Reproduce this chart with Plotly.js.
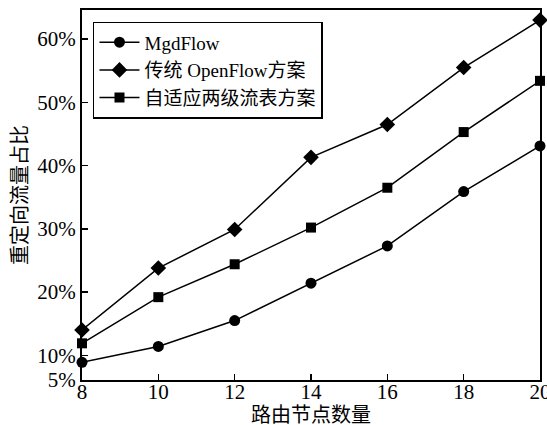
<!DOCTYPE html>
<html>
<head>
<meta charset="utf-8">
<script src="https://cdn.plot.ly/plotly-3.0.1.min.js"></script>
<style>html,body{margin:0;padding:0;background:#fff;}#chart{width:547px;height:425px;}</style>
</head>
<body>
<div id="chart"></div>
<script>
const nodes = [8, 10, 12, 14, 16, 18, 20];
const mgdFlow = [8.9, 11.4, 15.5, 21.4, 27.3, 35.9, 43.1];
const openFlow = [14.0, 23.8, 29.9, 41.3, 46.5, 55.5, 63.0];
const adaptive = [11.9, 19.2, 24.4, 30.2, 36.5, 45.3, 53.4];
const seriesNames = ['MgdFlow', '传统 OpenFlow方案', '自适应两级流表方案'];
const yTickVals = [6.1, 10, 20, 30, 40, 50, 60];
const yTickText = ['5%', '10%', '20%', '30%', '40%', '50%', '60%'];
const xTickVals = [8, 10, 12, 14, 16, 18, 20];
const xTitle = '路由节点数量';
const yTitle = '重定向流量占比';

const fontFam = '"Liberation Serif", "Times New Roman", "Noto Sans CJK SC", serif';
const symbols = ['circle', 'diamond', 'square'];
const sizes = [11, 12, 10];
const data = [mgdFlow, openFlow, adaptive].map((ys, i) => ({
  x: nodes, y: ys, name: seriesNames[i], type: 'scatter', mode: 'lines+markers',
  line: {color: '#000', width: 1.5},
  marker: {symbol: symbols[i], size: sizes[i], color: '#000'},
  cliponaxis: false
}));

const layout = {
  width: 547, height: 425,
  margin: {l: 82, r: 7, t: 10, b: 45},
  paper_bgcolor: '#fff', plot_bgcolor: '#fff',
  font: {family: fontFam, size: 20, color: '#000'},
  showlegend: true,
  legend: {x: 0.024, y: 0.968, xanchor: 'left', yanchor: 'top',
    bordercolor: '#000', borderwidth: 1.5, bgcolor: '#fff',
    font: {family: fontFam, size: 19, color: '#000'},
    tracegroupgap: 0, itemwidth: 40},
  xaxis: {range: [8, 20], tickvals: xTickVals, ticks: 'inside', ticklen: 6,
    tickwidth: 1.5, tickcolor: '#000', showline: true, linecolor: '#000', linewidth: 2,
    mirror: true, showgrid: false, zeroline: false, ticklabeloverflow: 'allow',
    ticklabelstandoff: -8,
    tickfont: {family: fontFam, size: 21, color: '#000'}},
  yaxis: {range: [6.1, 64.6], tickvals: yTickVals, ticktext: yTickText, ticks: 'inside',
    ticklen: 6, tickwidth: 1.5, tickcolor: '#000', showline: true, linecolor: '#000',
    linewidth: 2, mirror: true, showgrid: false, zeroline: false, ticklabeloverflow: 'allow',
    tickfont: {family: fontFam, size: 21, color: '#000'},
    title: {text: yTitle, font: {family: fontFam, size: 20, color: '#000'}, standoff: 4}},
  annotations: [{text: xTitle, xref: 'paper', yref: 'paper', x: 0.5, y: -0.095,
    xanchor: 'center', yanchor: 'middle', showarrow: false,
    font: {family: fontFam, size: 20, color: '#000'}}]
};
Plotly.newPlot('chart', data, layout, {displayModeBar: false, staticPlot: true});
</script>
</body>
</html>
